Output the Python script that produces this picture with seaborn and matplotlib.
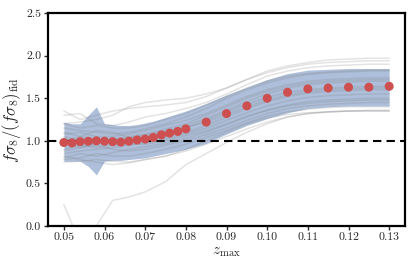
import matplotlib
matplotlib.use("Agg")
import matplotlib.pyplot as plt
import numpy as np
import pandas as pd
import seaborn as sns


# mean ratio at each z_max
z_points = [0.050, 0.052, 0.054, 0.056, 0.058, 0.060, 0.062, 0.064, 0.066, 0.068,
            0.070, 0.072, 0.074, 0.076, 0.078, 0.080, 0.085, 0.090, 0.095, 0.100,
            0.105, 0.110, 0.115, 0.120, 0.125, 0.130]
ratio_mean = [0.98, 0.975, 0.99, 0.995, 1.00, 0.995, 0.99, 0.985, 0.995, 1.01,
              1.02, 1.04, 1.07, 1.09, 1.11, 1.14, 1.22, 1.32, 1.41, 1.50,
              1.57, 1.61, 1.62, 1.63, 1.63, 1.64]
band_low = [0.76, 0.76, 0.76, 0.70, 0.60, 0.76, 0.77, 0.77, 0.78, 0.79,
            0.80, 0.82, 0.84, 0.86, 0.88, 0.90, 0.97, 1.08, 1.18, 1.26,
            1.33, 1.38, 1.40, 1.41, 1.41, 1.41]
band_high = [1.22, 1.20, 1.20, 1.30, 1.40, 1.20, 1.19, 1.18, 1.18, 1.19,
             1.21, 1.23, 1.26, 1.29, 1.32, 1.35, 1.44, 1.54, 1.63, 1.72,
             1.79, 1.83, 1.84, 1.85, 1.85, 1.85]

# individual realisations
z_grid = [0.050, 0.054, 0.058, 0.062, 0.066, 0.070, 0.075, 0.080, 0.085,
          0.090, 0.095, 0.100, 0.105, 0.110, 0.115, 0.120, 0.125, 0.130]
realisations = [
    [0.25, -0.20, 0.00, 0.30, 0.34, 0.40, 0.52, 0.72, 0.85, 0.98, 1.10, 1.20, 1.28, 1.32, 1.34, 1.35, 1.35, 1.35],
    [1.20, 1.22, 1.25, 1.30, 1.40, 1.45, 1.48, 1.50, 1.55, 1.62, 1.72, 1.82, 1.88, 1.92, 1.95, 1.96, 1.97, 1.97],
    [1.35, 1.25, 1.30, 1.35, 1.38, 1.40, 1.42, 1.45, 1.52, 1.62, 1.72, 1.80, 1.86, 1.90, 1.92, 1.93, 1.94, 1.94],
    [1.30, 1.32, 1.20, 1.18, 1.22, 1.28, 1.32, 1.38, 1.45, 1.55, 1.66, 1.76, 1.82, 1.86, 1.88, 1.89, 1.90, 1.90],
    [1.15, 1.12, 1.10, 1.08, 1.10, 1.14, 1.20, 1.28, 1.38, 1.50, 1.60, 1.68, 1.74, 1.78, 1.80, 1.81, 1.82, 1.82],
    [1.08, 1.10, 1.05, 1.05, 1.08, 1.12, 1.18, 1.24, 1.32, 1.42, 1.52, 1.60, 1.66, 1.70, 1.72, 1.73, 1.74, 1.74],
    [1.00, 1.05, 1.02, 1.00, 1.03, 1.07, 1.12, 1.18, 1.26, 1.36, 1.46, 1.55, 1.62, 1.66, 1.68, 1.69, 1.70, 1.70],
    [0.95, 0.98, 1.00, 0.98, 1.00, 1.04, 1.08, 1.15, 1.24, 1.34, 1.43, 1.51, 1.57, 1.60, 1.62, 1.63, 1.64, 1.64],
    [0.90, 0.95, 0.92, 0.95, 0.98, 1.00, 1.05, 1.10, 1.18, 1.28, 1.38, 1.46, 1.52, 1.56, 1.58, 1.59, 1.60, 1.60],
    [0.85, 0.88, 0.90, 0.92, 0.95, 0.98, 1.02, 1.08, 1.15, 1.24, 1.33, 1.41, 1.47, 1.51, 1.53, 1.54, 1.55, 1.55],
    [0.80, 0.85, 0.82, 0.86, 0.90, 0.93, 0.97, 1.03, 1.10, 1.19, 1.28, 1.36, 1.42, 1.46, 1.48, 1.49, 1.50, 1.50],
    [1.05, 1.00, 0.95, 0.90, 0.88, 0.90, 0.95, 1.00, 1.07, 1.15, 1.24, 1.32, 1.38, 1.41, 1.43, 1.44, 1.45, 1.45],
    [0.78, 0.80, 0.85, 0.82, 0.82, 0.85, 0.90, 0.96, 1.04, 1.12, 1.21, 1.29, 1.34, 1.37, 1.39, 1.40, 1.40, 1.40],
    [0.75, 0.76, 0.78, 0.76, 0.75, 0.78, 0.82, 0.88, 0.96, 1.05, 1.14, 1.22, 1.28, 1.32, 1.34, 1.35, 1.36, 1.36],
    [1.20, 1.15, 1.18, 1.15, 1.15, 1.18, 1.25, 1.32, 1.42, 1.52, 1.62, 1.70, 1.76, 1.79, 1.81, 1.82, 1.83, 1.83],
    [0.98, 0.92, 0.95, 1.02, 1.05, 1.08, 1.14, 1.20, 1.30, 1.40, 1.50, 1.58, 1.64, 1.68, 1.70, 1.71, 1.72, 1.72],
    [1.10, 1.05, 1.12, 1.10, 1.04, 1.05, 1.10, 1.16, 1.22, 1.31, 1.40, 1.48, 1.54, 1.58, 1.60, 1.61, 1.62, 1.62],
    [0.88, 0.92, 0.98, 1.00, 0.96, 0.96, 1.00, 1.06, 1.12, 1.20, 1.29, 1.36, 1.41, 1.44, 1.46, 1.47, 1.48, 1.48],
    [0.82, 0.78, 0.75, 0.72, 0.74, 0.78, 0.82, 0.90, 1.00, 1.10, 1.20, 1.27, 1.31, 1.33, 1.34, 1.35, 1.35, 1.35],
]

x_ticks = [0.05, 0.06, 0.07, 0.08, 0.09, 0.10, 0.11, 0.12, 0.13]
y_ticks = [0.0, 0.5, 1.0, 1.5, 2.0, 2.5]


def main() -> None:
    sns.set_theme(style="ticks")
    plt.rcParams["font.family"] = "serif"
    plt.rcParams["font.serif"] = ["cmr10", "DejaVu Serif"]
    plt.rcParams["mathtext.fontset"] = "cm"
    plt.rcParams["axes.formatter.use_mathtext"] = True

    runs = pd.DataFrame(
        [(i, z, r) for i, row in enumerate(realisations) for z, r in zip(z_grid, row)],
        columns=["run", "z", "ratio"],
    )
    mean_df = pd.DataFrame({"z": z_points, "ratio": ratio_mean})

    fig = plt.figure(figsize=(4.15, 2.68), dpi=100)
    ax = fig.add_axes([0.1157, 0.157, 0.8603, 0.794])

    ax.fill_between(z_points, band_low, band_high, color="#4c72b0", alpha=0.45,
                    linewidth=0, zorder=1)
    sns.lineplot(data=runs, x="z", y="ratio", units="run", estimator=None,
                 color="grey", alpha=0.22, linewidth=1.1, ax=ax, zorder=2)
    ax.axhline(1.0, color="black", linestyle=(0, (4, 2.5)), linewidth=1.5, zorder=3)
    sns.scatterplot(data=mean_df, x="z", y="ratio", color="#cd4f4f", s=42,
                    edgecolor="none", ax=ax, zorder=4)

    ax.set_xlim(0.0461, 0.1339)
    ax.set_ylim(0.0, 2.5)
    ax.set_xticks(x_ticks)
    ax.set_xticklabels([f"{t:.2f}" for t in x_ticks])
    ax.set_yticks(y_ticks)
    ax.set_yticklabels([f"{t:.1f}" for t in y_ticks])
    ax.tick_params(direction="out", length=3, width=1.0, labelsize=8.5, pad=2)
    for spine in ax.spines.values():
        spine.set_linewidth(1.6)
        spine.set_color("black")
        spine.set_visible(True)

    ax.set_xlabel(r"$z_{\mathrm{max}}$", fontsize=11, labelpad=2)
    ax.set_ylabel(r"$f\sigma_8/(f\sigma_8)_{\mathrm{fid}}$", fontsize=12, labelpad=2)

    fig.savefig("out.png", dpi=100)
    plt.close(fig)


if __name__ == "__main__":
    main()
